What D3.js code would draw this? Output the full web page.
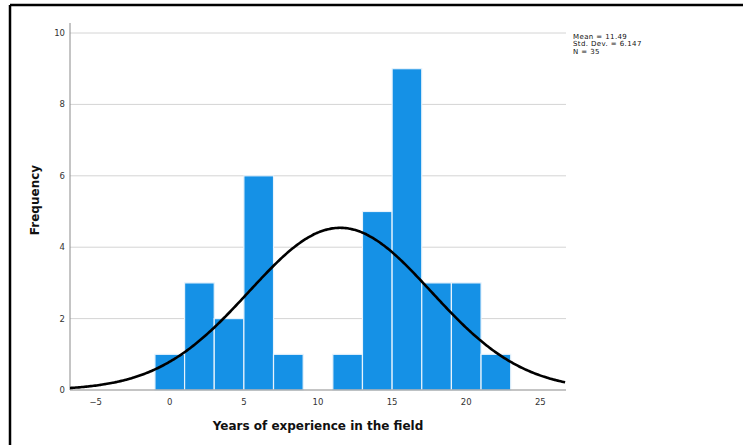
<!DOCTYPE html>
<html>
<head>
<meta charset="utf-8">
<script src="https://cdn.jsdelivr.net/npm/d3@7"></script>
<style>
  body { margin: 0; background: #fff; }
  svg { display: block; font-family: "DejaVu Sans", Verdana, sans-serif; }
</style>
</head>
<body>
<div id="chart"></div>
<script>
// histogram bins (width 2) and counts
const binStarts = [-1, 1, 3, 5, 7, 9, 11, 13, 15, 17, 19, 21];
const counts    = [ 1, 3, 2, 6, 1, 0,  1,  5,  9,  3,  3,  1];
const binWidth = 2;
const xTicks = [-5, 0, 5, 10, 15, 20, 25];
const yTicks = [0, 2, 4, 6, 8, 10];
const stats = {mean: 11.49, sd: 6.147, n: 35};
const statLines = ["Mean = 11.49", "Std. Dev. = 6.147", "N = 35"];

const W = 743, H = 445;
const svg = d3.select("#chart").append("svg")
  .attr("width", W).attr("height", H);

// outer frame (top + left only visible)
svg.append("line").attr("x1", 10).attr("x2", W).attr("y1", 5).attr("y2", 5)
  .attr("stroke", "#000").attr("stroke-width", 2.5);
svg.append("line").attr("x1", 10).attr("x2", 10).attr("y1", 5).attr("y2", H)
  .attr("stroke", "#000").attr("stroke-width", 2.5);

const left = 70, right = 566, bottom = 390;
const x = d3.scaleLinear().domain([-6.73, 26.73]).range([left, right]);
const y = d3.scaleLinear().domain([0, 10]).range([bottom, 33]);

// gridlines
svg.append("g").selectAll("line").data(yTicks.filter(d => d > 0)).join("line")
  .attr("x1", left).attr("x2", right)
  .attr("y1", d => y(d)).attr("y2", d => y(d))
  .attr("stroke", "#d4d4d4").attr("stroke-width", 1);

// bars
svg.append("g").selectAll("rect").data(binStarts.map((s, i) => ({s, c: counts[i]})).filter(d => d.c > 0))
  .join("rect")
  .attr("x", d => x(d.s))
  .attr("width", d => x(d.s + binWidth) - x(d.s))
  .attr("y", d => y(d.c))
  .attr("height", d => y(0) - y(d.c))
  .attr("fill", "#1591e6")
  .attr("stroke", "#e8f3fc")
  .attr("stroke-width", 1.2);

// axes lines
svg.append("line").attr("x1", left).attr("x2", left).attr("y1", 23).attr("y2", bottom)
  .attr("stroke", "#8a8a8a").attr("stroke-width", 1);
svg.append("line").attr("x1", left).attr("x2", right).attr("y1", bottom).attr("y2", bottom)
  .attr("stroke", "#8a8a8a").attr("stroke-width", 1);

// normal curve
const pts = d3.range(-6.73, 26.74, 0.1).map(v => {
  const z = (v - stats.mean) / stats.sd;
  return [v, stats.n * binWidth / (stats.sd * Math.sqrt(2 * Math.PI)) * Math.exp(-0.5 * z * z)];
});
svg.append("path").datum(pts)
  .attr("d", d3.line().x(d => x(d[0])).y(d => y(d[1])).curve(d3.curveBasis))
  .attr("fill", "none").attr("stroke", "#000").attr("stroke-width", 2.6);

// tick labels
svg.append("g").selectAll("text").data(yTicks).join("text")
  .attr("x", 65).attr("y", d => y(d) + 3)
  .attr("text-anchor", "end").attr("font-size", 8.5).attr("fill", "#333")
  .text(d => d);
svg.append("g").selectAll("text").data(xTicks).join("text")
  .attr("x", d => x(d)).attr("y", 405)
  .attr("text-anchor", "middle").attr("font-size", 8.5).attr("fill", "#333")
  .text(d => d < 0 ? "\u2212" + (-d) : d);

// titles
svg.append("text").attr("x", 318).attr("y", 430)
  .attr("text-anchor", "middle").attr("font-size", 12).attr("font-weight", "bold")
  .attr("fill", "#111").text("Years of experience in the field");
svg.append("text").attr("transform", "translate(39,200) rotate(-90)")
  .attr("text-anchor", "middle").attr("font-size", 12).attr("font-weight", "bold")
  .attr("fill", "#111").text("Frequency");

// stats box
svg.append("g").selectAll("text").data(statLines).join("text")
  .attr("x", 573).attr("y", (d, i) => 39 + i * 7.4)
  .attr("font-size", 7).attr("letter-spacing", 0.4).attr("fill", "#111")
  .text(d => d);
</script>
</body>
</html>
